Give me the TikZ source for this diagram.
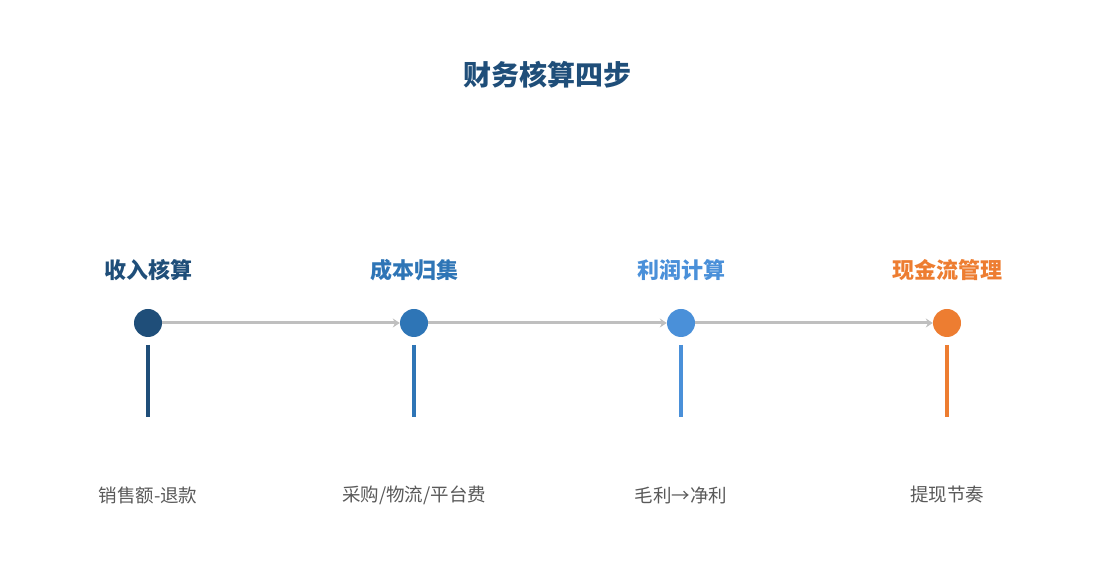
\documentclass[tikz,border=0pt]{standalone}
\usepackage{fontspec}
\setmainfont{Noto Sans CJK SC}
\usetikzlibrary{arrows.meta}
\definecolor{c1}{HTML}{1F4E79}
\definecolor{c2}{HTML}{2E75B6}
\definecolor{c3}{HTML}{4A90D9}
\definecolor{c4}{HTML}{ED7D31}
\definecolor{lg}{HTML}{BFBFBF}
\definecolor{tg}{HTML}{595959}
\begin{document}
\begin{tikzpicture}[x=1pt,y=1pt,
  dot/.style={circle,inner sep=0pt,minimum size=28pt},
  ttl/.style={font=\fontsize{22}{26}\selectfont\bfseries},
  desc/.style={font=\fontsize{18.5}{22}\selectfont,text=tg},
  conn/.style={draw=lg,line width=3pt,-{Stealth[length=7pt,width=9pt]}},
  stem/.style={line width=3.5pt}]
\useasboundingbox (0,0) rectangle (1095,585);
\node[font=\fontsize{28}{32}\selectfont\bfseries,text=c1] (h) at (547,510) {财务核算四步};
\foreach \i/\x/\c/\t/\d in {1/148/c1/收入核算/{销售额-退款},2/414/c2/成本归集/{采购/物流/平台费},3/681/c3/利润计算/{毛利→净利},4/947/c4/现金流管理/{提现节奏}}{
  \node[ttl,text=\c] (t\i) at (\x,315) {\t};
  \node[dot,fill=\c] (n\i) at (\x,262) {};
  \coordinate (s\i) at (\x,240);
  \coordinate (e\i) at (\x,168);
  \draw[stem,draw=\c] (s\i) -- (e\i);
  \node[desc] (d\i) at (\x,90) {\d};
}
\draw[conn] (n1) -- (n2);
\draw[conn] (n2) -- (n3);
\draw[conn] (n3) -- (n4);
\end{tikzpicture}
\end{document}
